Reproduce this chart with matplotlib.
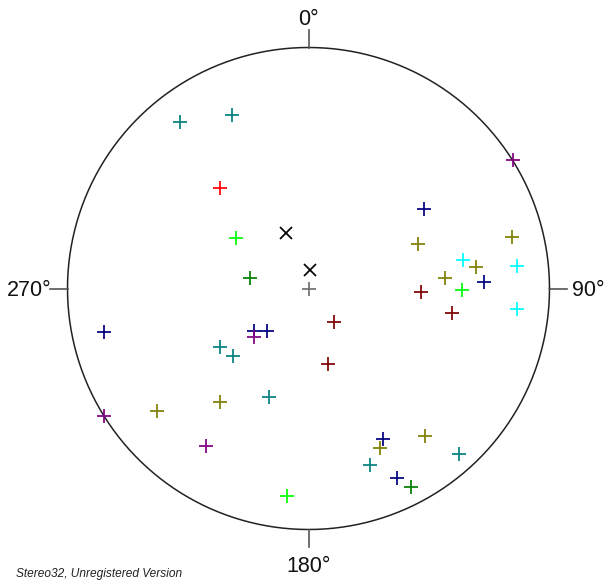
import numpy as np
import matplotlib
matplotlib.use("Agg")
import matplotlib.pyplot as plt

# ---- data: lineations (trend, plunge) in degrees, grouped by colour ----
teal_trend = [322.4, 336.3, 236.3, 228.0, 199.9, 160.8, 137.8]
teal_plunge = [13.8, 22.4, 53.7, 55.4, 50.3, 23.4, 8.0]
red_trend = [318.8]
red_plunge = [43.7]
lime_trend = [305.1, 90.7, 185.9]
lime_plunge = [59.9, 36.6, 14.5]
green_trend = [280.6, 152.7]
green_plunge = [69.9, 8.1]
navy_trend = [55.5, 87.9, 258.0, 232.1, 224.3, 153.7, 155.0]
navy_plunge = [41.5, 28.0, 14.3, 66.6, 70.0, 31.1, 14.5]
olive_trend = [67.9, 75.8, 85.6, 82.7, 231.0, 217.9, 155.9, 141.7]
olive_plunge = [49.5, 14.1, 42.7, 30.7, 20.4, 40.2, 28.4, 23.2]
cyan_trend = [79.5, 83.8, 95.6]
cyan_plunge = [35.2, 14.2, 14.3]
purple_trend = [57.9, 228.3, 238.1, 213.1]
purple_plunge = [0.0, 65.3, 0.0, 23.2]
maroon_trend = [91.8, 99.7, 142.7, 165.5]
maroon_plunge = [51.5, 39.5, 75.8, 63.6]
gray_trend = [0.0]
gray_plunge = [90.0]
# mean / pole markers (X)
x_trend = [338.1, 4.8]
x_plunge = [69.6, 83.9]

groups = [
    (teal_trend, teal_plunge, "#008080"),
    (red_trend, red_plunge, "#ff0000"),
    (lime_trend, lime_plunge, "#00ff00"),
    (green_trend, green_plunge, "#008000"),
    (navy_trend, navy_plunge, "#000080"),
    (olive_trend, olive_plunge, "#808000"),
    (cyan_trend, cyan_plunge, "#00ffff"),
    (purple_trend, purple_plunge, "#800080"),
    (maroon_trend, maroon_plunge, "#800000"),
    (gray_trend, gray_plunge, "#707070"),
]

dir_labels = ["0°", "90°", "180°", "270°"]


def project(trend, plunge):
    t = np.radians(np.asarray(trend, float))
    p = np.radians(np.asarray(plunge, float))
    r = np.sqrt(2.0) * np.sin((np.pi / 2 - p) / 2.0)  # equal-area (Schmidt)
    return r * np.sin(t), r * np.cos(t)


W, H, DPI = 605, 581, 100
cx, cy, R = 308.5, 288.5, 241.0

fig = plt.figure(figsize=(W / DPI, H / DPI), dpi=DPI)
ax = fig.add_axes([0, 0, 1, 1])
ax.set_xlim(-cx / R, (W - cx) / R)
ax.set_ylim((cy - H) / R, cy / R)
ax.set_aspect("equal", adjustable="box")
ax.axis("off")

# primitive circle
th = np.linspace(0, 2 * np.pi, 721)
ax.plot(np.cos(th), np.sin(th), color="#222222", lw=1.1, zorder=1)

# direction ticks
tl = 17.5 / R
ax.plot([0, 0], [1, 1 + tl], color="#555555", lw=1.2)
ax.plot([0, 0], [-1, -1 - tl], color="#555555", lw=1.2)
ax.plot([1, 1 + tl], [0, 0], color="#555555", lw=1.2)
ax.plot([-1, -1 - tl], [0, 0], color="#555555", lw=1.2)

fs = 15.5
lab_font = dict(family="Liberation Sans", fontsize=fs, color="#111111")
ax.text(0, (cy - 19.5) / R, dir_labels[0], ha="center", va="center", **lab_font)
ax.text((572 - cx) / R, (cy - 290.5) / R, dir_labels[1], ha="left", va="center", **lab_font)
ax.text(0, (cy - 566) / R, dir_labels[2], ha="center", va="center", **lab_font)
ax.text((52 - cx) / R, (cy - 290.5) / R, dir_labels[3], ha="right", va="center", **lab_font)

for tr, pl, col in groups:
    x, y = project(tr, pl)
    ax.plot(x, y, linestyle="none", marker="+", markersize=9.5,
            markeredgewidth=1.25, color=col, zorder=3)

x, y = project(x_trend, x_plunge)
ax.plot(x, y, linestyle="none", marker="x", markersize=9,
        markeredgewidth=1.25, color="black", zorder=3)

fig.text(16 / W, 1 - 573.5 / H, "Stereo32, Unregistered Version",
         family="Liberation Sans", style="italic", fontsize=8.6,
         color="#222222", ha="left", va="center")

fig.savefig("out.png", dpi=DPI)
